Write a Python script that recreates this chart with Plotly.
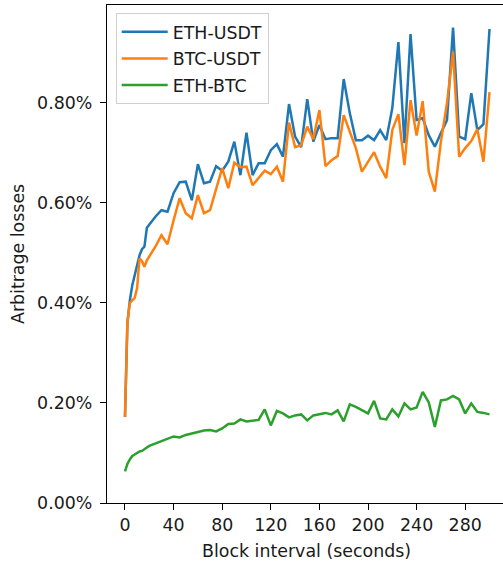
import numpy as np
import plotly.graph_objects as go

# Block interval (seconds)
intervals = [0, 2, 4, 6, 8, 10, 12, 14, 16, 18, 20] + list(range(25, 301, 5))

# Arbitrage losses in percent
eth_usdt = [0.172, 0.360, 0.405, 0.435, 0.455, 0.475, 0.495, 0.507, 0.512, 0.550, 0.557,
            0.572, 0.585, 0.582, 0.619, 0.641, 0.642, 0.605, 0.677, 0.639, 0.642,
            0.673, 0.664, 0.682, 0.722, 0.655, 0.740, 0.655, 0.679, 0.679, 0.705,
            0.717, 0.692, 0.797, 0.732, 0.711, 0.807, 0.722, 0.755, 0.727, 0.729,
            0.729, 0.847, 0.779, 0.725, 0.725, 0.734, 0.725, 0.745, 0.725, 0.789,
            0.921, 0.719, 0.937, 0.765, 0.769, 0.735, 0.712, 0.739, 0.765, 0.950,
            0.732, 0.727, 0.819, 0.745, 0.757, 0.947]
btc_usdt = [0.172, 0.360, 0.400, 0.405, 0.410, 0.430, 0.489, 0.483, 0.472, 0.485, 0.492,
            0.512, 0.535, 0.517, 0.565, 0.609, 0.579, 0.569, 0.615, 0.579, 0.585,
            0.627, 0.669, 0.629, 0.680, 0.671, 0.672, 0.635, 0.649, 0.664, 0.657,
            0.672, 0.642, 0.760, 0.711, 0.715, 0.752, 0.727, 0.785, 0.673, 0.685,
            0.693, 0.775, 0.742, 0.709, 0.662, 0.682, 0.701, 0.672, 0.649, 0.745,
            0.777, 0.675, 0.805, 0.734, 0.803, 0.662, 0.622, 0.722, 0.799, 0.902,
            0.692, 0.709, 0.723, 0.747, 0.682, 0.821]
eth_btc = [0.063, 0.078, 0.087, 0.094, 0.097, 0.100, 0.103, 0.104, 0.108, 0.111, 0.114,
           0.119, 0.124, 0.128, 0.133, 0.131, 0.136, 0.139, 0.142, 0.145, 0.146,
           0.143, 0.149, 0.158, 0.159, 0.167, 0.163, 0.165, 0.166, 0.187, 0.155,
           0.184, 0.179, 0.171, 0.175, 0.177, 0.165, 0.175, 0.178, 0.180, 0.177,
           0.185, 0.163, 0.197, 0.192, 0.186, 0.179, 0.204, 0.169, 0.167, 0.187,
           0.173, 0.199, 0.187, 0.191, 0.222, 0.201, 0.152, 0.205, 0.207, 0.214,
           0.207, 0.179, 0.199, 0.182, 0.180, 0.177]

series_names = ["ETH-USDT", "BTC-USDT", "ETH-BTC"]
series_values = [eth_usdt, btc_usdt, eth_btc]
colors = ["#1f77b4", "#ff7f0e", "#2ca02c"]

x_ticks = [0, 40, 80, 120, 160, 200, 240, 280]
y_ticks = [0.0, 0.002, 0.004, 0.006, 0.008]

FONT = "DejaVu Sans"
FS = 17.4

fig = go.Figure()
for name, vals, c in zip(series_names, series_values, colors):
    fig.add_trace(go.Scatter(
        x=intervals, y=np.array(vals) / 100.0, mode="lines", name=name,
        legendgroup=name, line=dict(color=c, width=2.5)))

plot_top, plot_bot = 5, 503

fig.update_layout(
    width=503, height=562,
    margin=dict(l=107, r=0, t=5, b=59),
    paper_bgcolor="white", plot_bgcolor="white",
    font=dict(family=FONT, size=FS, color="#1a1a1a"),
    showlegend=True,
    legend=dict(x=0.022, y=0.984, xanchor="left", yanchor="top",
                bgcolor="rgba(255,255,255,0.8)", bordercolor="#d0d0d0", borderwidth=1,
                font=dict(family=FONT, size=FS, color="#1a1a1a"),
                tracegroupgap=1, itemwidth=46),
    xaxis=dict(range=[-14.8, 311.1], tickvals=x_ticks, ticks="outside", ticklen=6,
               tickwidth=1.3, tickcolor="black", showline=True, linecolor="black",
               linewidth=1.3, mirror=True, showgrid=False, zeroline=False),
    yaxis=dict(range=[0, 0.00995], tickvals=y_ticks, tickformat=".2%", ticks="outside",
               ticklen=6, tickwidth=1.3, tickcolor="black", showline=True,
               linecolor="black", linewidth=1.3, mirror=False, showgrid=False,
               zeroline=False, ticklabelstandoff=4),
    annotations=[
        dict(text="Block interval (seconds)", x=0.504,
             y=(plot_bot - 551) / (plot_bot - plot_top), xref="paper", yref="paper",
             showarrow=False, xanchor="center", yanchor="middle",
             font=dict(family=FONT, size=FS, color="#1a1a1a")),
        dict(text="Arbitrage losses", x=-0.2247, y=0.5, xref="paper", yref="paper",
             showarrow=False, xanchor="center", yanchor="middle", textangle=-90,
             font=dict(family=FONT, size=FS, color="#1a1a1a")),
    ],
)

fig.write_html(
    "out.html",
    config={"displayModeBar": False},
    post_script="document.body.style.margin='0px';document.body.style.overflow='hidden';",
)
